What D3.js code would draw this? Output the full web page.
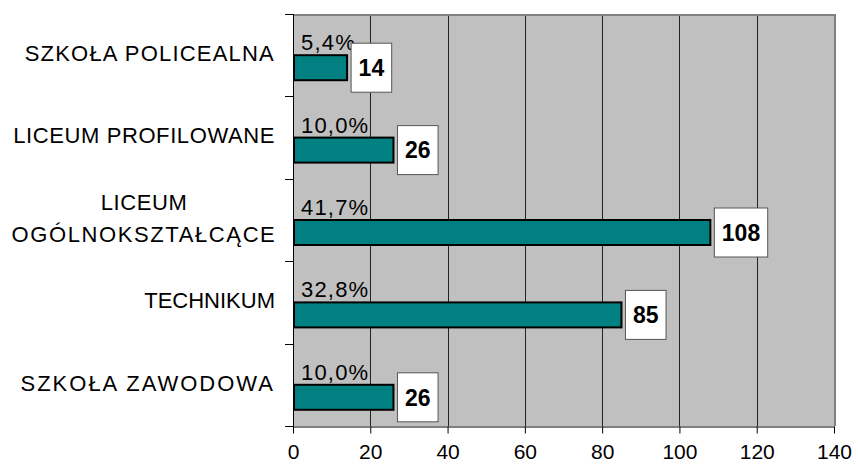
<!DOCTYPE html>
<html><head><meta charset="utf-8">
<script src="https://cdn.jsdelivr.net/npm/d3@7/dist/d3.min.js"></script>
<style>body{margin:0;background:#fff}svg{display:block}text{font-family:"Liberation Sans",Arial,sans-serif}</style>
</head><body><svg id="c" width="858" height="467"></svg>
<script>
const categories = ["SZKOŁA POLICEALNA","LICEUM PROFILOWANE","LICEUM OGÓLNOKSZTAŁCĄCE","TECHNIKUM","SZKOŁA ZAWODOWA"];
const categoryLines = [["SZKOŁA  POLICEALNA"],["LICEUM PROFILOWANE"],["LICEUM","OGÓLNOKSZTAŁCĄCE"],["TECHNIKUM"],["SZKOŁA ZAWODOWA"]];
const values = [14,26,108,85,26];
const percents = ["5,4%","10,0%","41,7%","32,8%","10,0%"];
const xTicks = [0,20,40,60,80,100,120,140];

const svg = d3.select("#c");
const L = 293, R = 834, T = 14, B = 426;
const x = d3.scaleLinear().domain([0,140]).range([L,R]);
const y = d3.scaleBand().domain(categories).range([T,B]);
const spacing = {"SZKOŁA  POLICEALNA":1.2,"LICEUM PROFILOWANE":0.6,"LICEUM":0.6,"OGÓLNOKSZTAŁCĄCE":1.6,"TECHNIKUM":0,"SZKOŁA ZAWODOWA":2};

svg.append("rect").attr("x",L).attr("y",T).attr("width",R-L).attr("height",B-T).attr("fill","#C0C0C0");
svg.append("g").selectAll("line").data(xTicks.slice(1,-1)).join("line")
  .attr("x1",d=>Math.round(x(d))+0.5).attr("x2",d=>Math.round(x(d))+0.5).attr("y1",T).attr("y2",B)
  .attr("stroke","#222").attr("stroke-width",1);
svg.append("path").attr("d",`M${L},${T+1}H${R+1}V${B}`).attr("fill","none").attr("stroke","#808080").attr("stroke-width",2);

const xa = svg.append("g").attr("transform",`translate(0,${B+0.5})`)
  .call(d3.axisBottom(x).tickValues(xTicks).tickSize(7).tickPadding(11).tickSizeOuter(0));
xa.select(".domain").attr("stroke","#000");
xa.selectAll(".tick line").attr("stroke","#000");
xa.selectAll("text").attr("font-size",21).attr("fill","#000").attr("font-family","Liberation Sans, Arial, sans-serif");

const bounds = categories.map(c=>y(c)).concat([B]);
svg.append("g").selectAll("line").data(bounds).join("line")
  .attr("x1",L-8).attr("x2",L).attr("y1",d=>Math.round(d)+0.5).attr("y2",d=>Math.round(d)+0.5).attr("stroke","#000");
svg.append("line").attr("x1",L+0.5).attr("x2",L+0.5).attr("y1",T).attr("y2",B+1).attr("stroke","#000");

const lh = 32;
categories.forEach((c,i)=>{
  const lines = categoryLines[i];
  const cy = y(c)+y.bandwidth()/2;
  const g = svg.append("text").attr("font-size",22).attr("fill","#000")
    .attr("text-anchor", lines.length>1?"middle":"end");
  lines.forEach((ln,j)=>{
    g.append("tspan").attr("x", lines.length>1?144:275)
      .attr("y", cy - (lines.length-1)*lh/2 + j*lh - 2)
      .attr("dy","0.35em").attr("letter-spacing",spacing[ln]||0).text(ln);
  });
});

const bh = 25;
const barY = c => y(c)+y.bandwidth()/2;
svg.append("g").selectAll("rect").data(categories).join("rect")
  .attr("x",L+1).attr("y",c=>barY(c)).attr("width",(c,i)=>x(values[i])-L-1).attr("height",bh)
  .attr("fill","#008080").attr("stroke","#000").attr("stroke-width",2);

svg.append("g").selectAll("text").data(categories).join("text")
  .attr("x",301).attr("y",c=>barY(c)-5).attr("font-size",22).attr("letter-spacing",1.2).attr("fill","#000")
  .text((c,i)=>percents[i]);

const vg = svg.append("g");
categories.forEach((c,i)=>{
  const g = vg.append("g");
  const r = g.append("rect");
  const t = g.append("text").attr("font-size",23).attr("font-weight","bold").attr("fill","#000")
    .attr("text-anchor","middle").text(values[i]);
  const w = t.node().getComputedTextLength()+15;
  const bx = x(values[i])+4, cy = barY(c)+bh/2;
  r.attr("x",bx).attr("y",cy-24.5).attr("width",w).attr("height",49)
    .attr("fill","#fff").attr("stroke","#555").attr("stroke-width",1);
  t.attr("x",bx+w/2).attr("y",cy).attr("dy","0.36em");
});
</script></body></html>
